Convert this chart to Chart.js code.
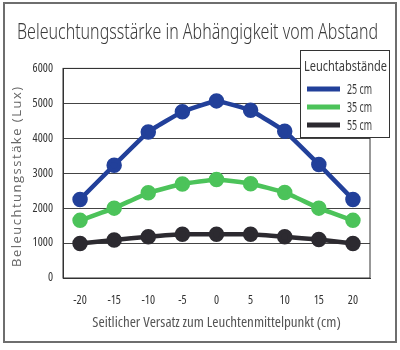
<!DOCTYPE html>
<html lang="de">
<head>
  <meta charset="UTF-8">
  <title>Beleuchtungsstärke in Abhängigkeit vom Abstand</title>
  <script src="https://cdn.jsdelivr.net/npm/chart.js"></script>
  <style>
    html, body { margin: 0; padding: 0; background: #fff; }
    #wrap { width: 400px; height: 350px; }
  </style>
</head>
<body>
  <div id="wrap"><canvas id="lux" width="400" height="350"></canvas></div>

  <script>
    // seitlicher Versatz [cm]
    const versatz = ["-20", "-15", "-10", "-5", "0", "5", "10", "15", "20"];

    // Beleuchtungsstärke [Lux] je Leuchtabstand
    const lux25 = [2250, 3230, 4180, 4760, 5070, 4800, 4200, 3250, 2250];
    const lux35 = [1650, 2000, 2440, 2690, 2820, 2700, 2450, 2000, 1650];
    const lux55 = [990, 1090, 1180, 1250, 1250, 1250, 1180, 1100, 990];

    const abstaende = ["25 cm", "35 cm", "55 cm"];
    const farben = ["#22409a", "#4cc35a", "#2c2a30"];

    const yTitel = "Beleuchtungsstäke (Lux)";

    // Rahmen um das Bild, Rahmen um die Zeichenfläche, y-Titel gesperrt, Legende oben rechts
    const rahmen = {
      id: "rahmen",
      beforeDraw(chart) {
        const ctx = chart.ctx;
        ctx.save();
        ctx.fillStyle = "#fff";
        ctx.fillRect(0, 0, chart.width, chart.height);
        ctx.strokeStyle = "#6e6e6e";
        ctx.lineWidth = 2;
        ctx.strokeRect(4, 3, 392, 339);
        ctx.restore();
      },
      afterDraw(chart) {
        const ctx = chart.ctx;
        const a = chart.chartArea;
        ctx.save();
        ctx.strokeStyle = "#333";
        ctx.lineWidth = 1;
        ctx.strokeRect(a.left, a.top, a.right - a.left, a.bottom - a.top);

        // y-Achsentitel mit Sperrung
        ctx.save();
        ctx.translate(17, (a.top + a.bottom) / 2 + 3);
        ctx.rotate(-Math.PI / 2);
        ctx.font = "13px 'Open Sans'";
        ctx.letterSpacing = "1.5px";
        ctx.fillStyle = "#666";
        ctx.textAlign = "center";
        ctx.textBaseline = "middle";
        ctx.fillText(yTitel, 0, 0);
        ctx.restore();

        // Legende (Text schmal gestaucht über maxWidth)
        const x = 300, y = 50, w = 89, h = 87;
        ctx.fillStyle = "#fff";
        ctx.fillRect(x, y, w, h);
        ctx.strokeStyle = "#333";
        ctx.strokeRect(x + 0.5, y + 0.5, w, h);
        ctx.fillStyle = "#3a3a3a";
        ctx.textBaseline = "middle";
        ctx.textAlign = "left";
        ctx.font = "15px 'Noto Sans'";
        ctx.fillText("Leuchtabstände", x + 4, y + 17, 83);
        ctx.font = "13.5px 'Noto Sans'";
        chart.data.datasets.forEach((ds, i) => {
          const ry = y + 39 + i * 18;
          ctx.strokeStyle = ds.borderColor;
          ctx.lineWidth = 5;
          ctx.beginPath();
          ctx.moveTo(x + 7, ry);
          ctx.lineTo(x + 40, ry);
          ctx.stroke();
          ctx.fillStyle = "#3a3a3a";
          ctx.fillText(ds.label, x + 47, ry + 1, 25);
        });
        ctx.restore();
      }
    };

    const reihen = [lux25, lux35, lux55].map((werte, i) => ({
      label: abstaende[i],
      data: werte,
      borderColor: farben[i],
      backgroundColor: farben[i],
      borderWidth: 4.5,
      pointRadius: 5.5,
      pointHoverRadius: 5.5,
      tension: 0.1
    }));

    const tickFont = { family: "'Open Sans'", size: 12, weight: "condensed" };

    new Chart(document.getElementById("lux"), {
      type: "line",
      data: { labels: versatz, datasets: reihen },
      plugins: [rahmen],
      options: {
        responsive: false,
        animation: false,
        layout: { padding: { left: 17, right: 22, top: 10, bottom: 14 } },
        plugins: {
          legend: { display: false },
          tooltip: { enabled: false },
          title: {
            display: true,
            text: "Beleuchtungsstärke in Abhängigkeit vom Abstand",
            color: "#3a3a3a",
            font: { family: "'Noto Sans'", size: 22, weight: "300 condensed" },
            padding: { top: 10, bottom: 22 }
          }
        },
        scales: {
          x: {
            offset: true,
            grid: { display: false, drawTicks: false },
            border: { display: true, color: "#333" },
            ticks: { color: "#333", padding: 15, font: tickFont },
            title: {
              display: true,
              text: "Seitlicher Versatz zum Leuchtenmittelpunkt (cm)",
              color: "#555",
              font: { family: "'Open Sans'", size: 15, weight: "condensed" },
              padding: { top: 0, bottom: 4 }
            },
            afterFit(scale) { scale.height = 58; }
          },
          y: {
            min: 0,
            max: 6000,
            grid: { color: "#444", drawTicks: false },
            border: { display: true, color: "#333" },
            ticks: {
              stepSize: 1000,
              color: "#333",
              padding: 10,
              font: tickFont,
              callback: (v) => String(v)
            },
            afterFit(scale) { scale.width = 46; }
          },
          // leerer Rand rechts neben der Zeichenfläche
          rand: {
            position: "right",
            display: true,
            grid: { display: false, drawTicks: false },
            border: { display: false },
            ticks: { display: false },
            afterFit(scale) { scale.width = 8; }
          }
        }
      }
    });
  </script>
</body>
</html>
